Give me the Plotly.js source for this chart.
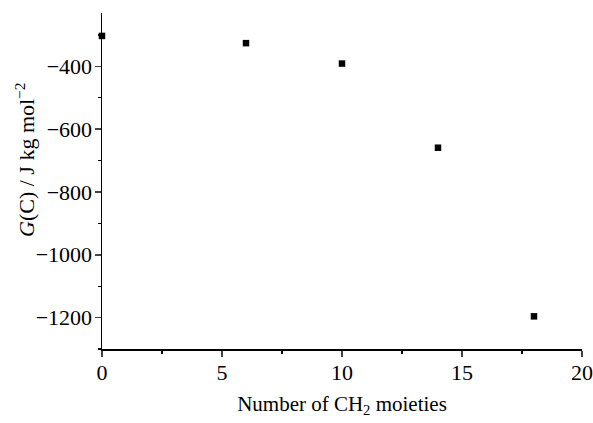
<!DOCTYPE html>
<html>
<head>
<meta charset="utf-8">
<script src="https://cdn.plot.ly/plotly-3.0.1.min.js"></script>
<style>html,body{margin:0;padding:0;background:#fff;}#chart{width:593px;height:423px;}</style>
</head>
<body>
<div id="chart"></div>
<script>
const ch2Count = [0, 6, 10, 14, 18];
const gValues = [-303, -326, -391, -659, -1196];
const xTickVals = [0, 5, 10, 15, 20];
const yTickVals = [-400, -600, -800, -1000, -1200];

const tickFont = {family: 'Liberation Serif, Times New Roman, serif', size: 22, color: '#000'};
const titleFont = {family: 'Liberation Serif, Times New Roman, serif', size: 21, color: '#000'};
const yTitleFont = {family: 'Liberation Serif, Times New Roman, serif', size: 22, color: '#000'};

Plotly.newPlot('chart', [{
  x: ch2Count, y: gValues, type: 'scatter', mode: 'markers',
  marker: {symbol: 'square', size: 6.5, color: '#000'},
  cliponaxis: false, showlegend: false
}], {
  width: 593, height: 423,
  margin: {l: 102, r: 11, t: 13, b: 74},
  paper_bgcolor: '#fff', plot_bgcolor: '#fff',
  font: tickFont,
  xaxis: {
    range: [0, 20], tickvals: xTickVals, ticks: 'outside', ticklen: 6, tickwidth: 1.5,
    showline: true, linewidth: 1.5, linecolor: '#000', showgrid: false, zeroline: false,
    tickfont: tickFont, ticklabelstandoff: -3, ticklabeloverflow: 'allow',
    minor: {dtick: 2.5, ticks: 'outside', ticklen: 3, tickwidth: 1.2, tickcolor: '#000', showgrid: false},
    title: {text: 'Number of CH<sub>2</sub> moieties', font: titleFont, standoff: 12}
  },
  yaxis: {
    range: [-1300, -230], tickvals: yTickVals, ticks: 'outside', ticklen: 6, tickwidth: 1.5,
    showline: true, linewidth: 1.5, linecolor: '#000', showgrid: false, zeroline: false,
    tickfont: tickFont, ticklabelstandoff: -2, ticklabeloverflow: 'allow',
    minor: {dtick: 100, tick0: 0, ticks: 'outside', ticklen: 3, tickwidth: 1.2, tickcolor: '#000', showgrid: false}
  },
  annotations: [{
    text: '<i>G</i>(C) / J kg mol<sup>−2</sup>', font: yTitleFont, textangle: -90,
    xref: 'paper', yref: 'paper', x: 0, y: 0.5625, xanchor: 'center', yanchor: 'middle',
    xshift: -77, showarrow: false
  }]
}, {staticPlot: true});
</script>
</body>
</html>
